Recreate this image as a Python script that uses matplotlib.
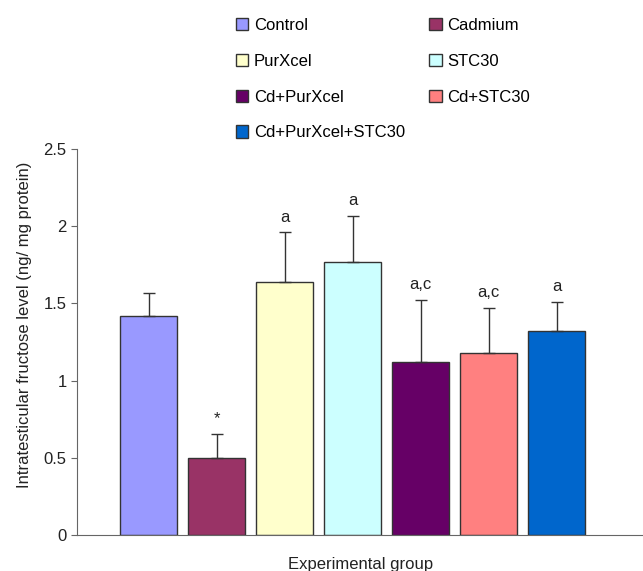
import matplotlib.pyplot as plt
from matplotlib.patches import Patch

plt.rcParams['font.family'] = ['Liberation Sans', 'DejaVu Sans']

groups = ['Control', 'Cadmium', 'PurXcel', 'STC30', 'Cd+PurXcel', 'Cd+STC30', 'Cd+PurXcel+STC30']
means = [1.42, 0.50, 1.64, 1.77, 1.12, 1.18, 1.32]
errors = [0.15, 0.155, 0.32, 0.295, 0.405, 0.29, 0.19]
marks = ['', '*', 'a', 'a', 'a,c', 'a,c', 'a']
colors = ['#9999FF', '#993366', '#FFFFCC', '#CCFFFF', '#660066', '#FF8080', '#0066CC']

fig = plt.figure(figsize=(6.43, 5.71), dpi=100)
ax = fig.add_axes([0.12, 0.063, 0.88, 0.676])

x = list(range(len(groups)))
ax.bar(x, means, width=0.84, color=colors, edgecolor='#333333', linewidth=1.0, zorder=2)
ax.errorbar(x, means, yerr=[[0] * len(errors), errors], fmt='none', ecolor='#333333',
            elinewidth=1.0, capsize=4, capthick=1.0, zorder=3)

for xi, m, e, t in zip(x, means, errors, marks):
    if t:
        ax.text(xi, m + e + 0.05, t, ha='center', va='bottom', fontsize=12, color='#222222')

ax.set_xlim(-1.05, 7.27)
ax.set_ylim(0, 2.5)
ax.set_yticks([0, 0.5, 1, 1.5, 2, 2.5])
ax.set_yticklabels(['0', '0.5', '1', '1.5', '2', '2.5'])
ax.set_xticks([])
ax.tick_params(axis='y', labelsize=12, length=4, color='#666666', labelcolor='#222222')
for s in ['top', 'right']:
    ax.spines[s].set_visible(False)
for s in ['left', 'bottom']:
    ax.spines[s].set_color('#666666')
ax.set_ylabel('Intratesticular fructose level (ng/ mg protein)', fontsize=12, color='#222222')
ax.yaxis.set_label_coords(-0.08, 0.545)
ax.set_xlabel('Experimental group', fontsize=12, color='#222222', labelpad=16)

# legend fills column-wise, so reorder to read row-wise
order = [0, 2, 4, 6, 1, 3, 5]
handles = [Patch(facecolor=colors[i], edgecolor='#333333', linewidth=1.0) for i in order]
labels = [groups[i] for i in order]
fig.legend(handles, labels, ncol=2, loc='upper left', bbox_to_anchor=(0.343, 0.995),
           frameon=False, fontsize=12, handlelength=0.75, handleheight=0.75,
           handletextpad=0.35, columnspacing=1.45, labelspacing=1.25)

fig.savefig('out.png', dpi=100)
